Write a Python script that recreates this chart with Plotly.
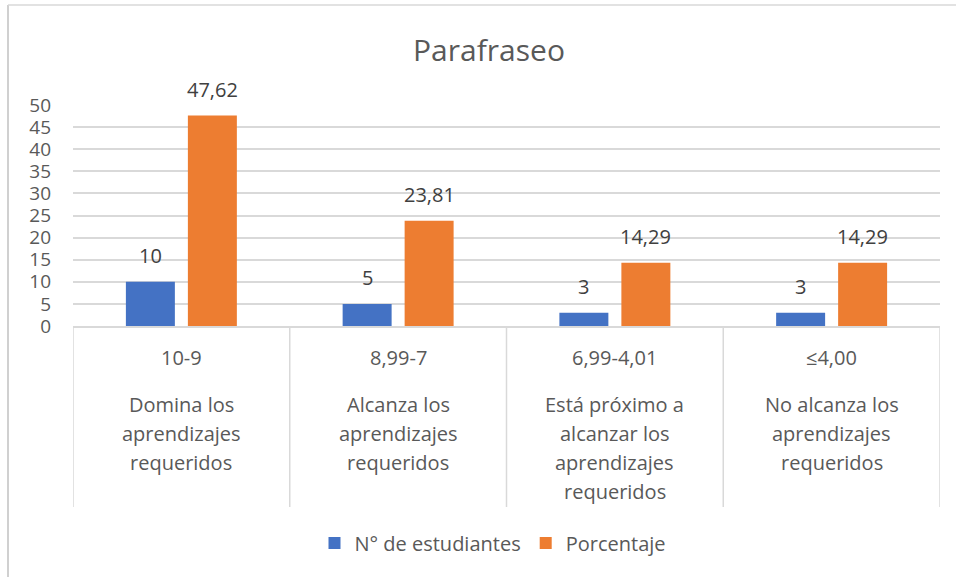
import plotly.graph_objects as go

# ---- data ----
codes = ["10-9", "8,99-7", "6,99-4,01", "≤4,00"]
descriptions = [
    ["Domina los", "aprendizajes", "requeridos"],
    ["Alcanza los", "aprendizajes", "requeridos"],
    ["Está próximo a", "alcanzar los", "aprendizajes", "requeridos"],
    ["No alcanza los", "aprendizajes", "requeridos"],
]
estudiantes = [10, 5, 3, 3]
porcentaje = [47.62, 23.81, 14.29, 14.29]
series_names = ["N° de estudiantes", "Porcentaje"]
title_text = "Parafraseo"

# ---- layout constants (pixels) ----
W, H = 956, 577
PL, PR, PT, PB = 73, 940, 105, 326
pw, ph = PR - PL, PB - PT

def px_x(p):
    return (p - PL) / pw

def px_y(p):
    return (PB - p) / ph

BLUE = "#4472C4"
ORANGE = "#ED7D31"
TXT = "#595959"
GRID = "#D9D9D9"
FONT = "Open Sans"
FS = 20

bw = 0.226
offs = [-0.143, 0.143]
xs = list(range(len(codes)))

fig = go.Figure()
for name, vals, col, off in [(series_names[0], estudiantes, BLUE, offs[0]),
                             (series_names[1], porcentaje, ORANGE, offs[1])]:
    fig.add_trace(go.Bar(
        x=xs, y=vals, name=name, marker=dict(color=col, line=dict(width=0)),
        width=bw, offset=off - bw / 2, hoverinfo="skip",
    ))

annotations = []
# data labels
for vals, off in [(estudiantes, offs[0]), (porcentaje, offs[1])]:
    for i, v in enumerate(vals):
        s = (f"{v:.2f}".replace(".", ",") if v != int(v) else str(int(v)))
        annotations.append(dict(x=i + off, y=v, xref="x", yref="y", text=s,
                                showarrow=False, yanchor="middle", yshift=26,
                                font=dict(family=FONT, size=FS, color="#404040")))
# category labels
for i, (c, d) in enumerate(zip(codes, descriptions)):
    annotations.append(dict(x=i, y=px_y(357), xref="x", yref="paper", text=c,
                            showarrow=False, yanchor="middle",
                            font=dict(family=FONT, size=FS, color=TXT)))
    for k, line in enumerate(d):
        annotations.append(dict(x=i, y=px_y(404 + 29 * k), xref="x", yref="paper",
                                text=line, showarrow=False, yanchor="middle",
                                font=dict(family=FONT, size=FS, color=TXT)))

shapes = []
# category separators
for b in [i - 0.5 for i in range(len(codes) + 1)]:
    shapes.append(dict(type="line", xref="x", yref="paper", x0=b, x1=b,
                       y0=0, y1=px_y(507), line=dict(color=GRID, width=1.5)))
# outer chart border (left and top)
shapes.append(dict(type="line", xref="paper", yref="paper", x0=px_x(8), x1=px_x(8),
                   y0=px_y(5), y1=px_y(600), line=dict(color="#D0D0D0", width=2)))
shapes.append(dict(type="line", xref="paper", yref="paper", x0=px_x(8), x1=px_x(1000),
                   y0=px_y(5), y1=px_y(5), line=dict(color="#D9D9D9", width=1.5)))

fig.update_layout(
    width=W, height=H,
    margin=dict(l=PL, r=W - PR, t=PT, b=H - PB, pad=0),
    paper_bgcolor="white", plot_bgcolor="white",
    barmode="overlay",
    title=dict(text=title_text, x=px_x(489), xanchor="center", xref="paper",
               y=1 - 50 / H, yanchor="middle",
               font=dict(family=FONT, size=30, color=TXT)),
    showlegend=True,
    legend=dict(orientation="h", x=px_x(493), xanchor="center", y=px_y(543),
                yanchor="middle", font=dict(family=FONT, size=FS, color=TXT),
                itemwidth=30, traceorder="normal", bgcolor="rgba(0,0,0,0)"),
    xaxis=dict(range=[-0.5, len(codes) - 0.5], showticklabels=False, showgrid=False,
               zeroline=False, showline=True, linecolor=GRID, linewidth=1.5,
               ticks="", fixedrange=True),
    yaxis=dict(range=[0, 50], dtick=5, showgrid=True, gridcolor=GRID, gridwidth=1.5,
               zeroline=False, showline=False, ticks="",
               tickfont=dict(family=FONT, size=19, color=TXT),
               ticklabelstandoff=21, fixedrange=True),
    annotations=annotations,
    shapes=shapes,
)

fig.write_html("out.html", config={"displayModeBar": False},
               post_script="document.body.style.margin='0';document.body.style.overflow='hidden';")
